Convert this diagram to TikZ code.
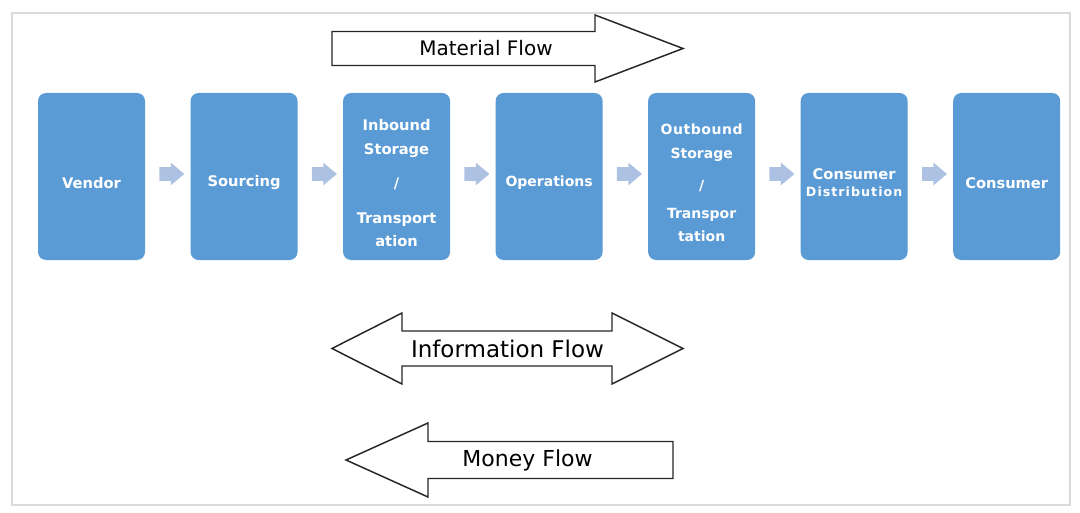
\documentclass[tikz,border=0pt]{standalone}
\usepackage{fontspec}
\setmainfont{DejaVu Sans}
\usepackage{tikz}
\usetikzlibrary{positioning,calc,shapes.arrows}

\definecolor{stageblue}{RGB}{91,155,213}
\definecolor{tipblue}{RGB}{173,194,227}
\definecolor{framegray}{RGB}{218,218,218}

% first line is set a little lower in the stages
\newcommand{\stagegap}{\rule{0pt}{17.5pt}}

\tikzset{
  stage/.style={rectangle, rounded corners=6pt, fill=stageblue, text=white,
                font=\bfseries\fontsize{11}{18}\selectfont, align=center,
                minimum width=80.25pt, minimum height=125.25pt, inner sep=1pt},
  stagetip/.style={single arrow, fill=tipblue, draw=none, inner xsep=0pt, inner ysep=4.9pt,
                   minimum height=18.75pt, single arrow head extend=3.4pt,
                   single arrow tip angle=80},
  flowline/.style={draw=black!85, line width=1.1pt, fill=white},
  flowtext/.style={font=\fontsize{15}{18}\selectfont, inner sep=0pt}
}

\begin{document}
\begin{tikzpicture}[x=0.75pt, y=-0.75pt, node distance=33.75pt]
              \useasboundingbox (0,0) rectangle (1080,513);

              % Frame
              \draw[framegray, line width=1.1pt] (12,13) rectangle (1070,505);

              % Stages
              \node[stage] (vendor) at (91.5,176.5) {\stagegap Vendor};
              \node[stage, right=of vendor] (sourcing) {\stagegap Sourcing};
              \node[stage, right=of sourcing] (inbound)
                    {\stagegap Inbound\\Storage\\[8pt]/\\[8pt]Transport\\[-1pt]ation};
              \node[stage, right=of inbound, font=\bfseries\fontsize{10.5}{18}\selectfont] (operations) {\stagegap Operations};
              \node[stage, right=of operations, font=\bfseries\fontsize{10.5}{17.5}\selectfont] (outbound)
                    {\addfontfeatures{LetterSpace=4}\stagegap Outbound\\Storage\\[7pt]/\\[3pt]Transpor\\tation};
              \node[stage, right=of outbound] (distribution)
                    {\stagegap Consumer\\[-5pt]{\fontsize{9.5}{11}\selectfont\addfontfeatures{LetterSpace=8}Distribution}};
              \node[stage, right=of distribution] (consumer) {\stagegap Consumer};

              % Arrows between stages
              \foreach \a/\b [count=\i] in {vendor/sourcing, sourcing/inbound, inbound/operations,
                                            operations/outbound, outbound/distribution, distribution/consumer}
                    \node[stagetip] (tip\i) at ($(\a.east)!0.5!(\b.west)+(0,-2.5)$) {};

              % Material flow
              \draw[flowline] (332,31.5) -- (595,31.5) -- (595,15) -- (683,48.5)
                    -- (595,82) -- (595,65.5) -- (332,65.5) -- cycle;
              \node[flowtext] (material) at (486,48.5) {Material Flow};

              % Information flow
              \draw[flowline] (332,348.5) -- (402,313) -- (402,331) -- (612,331) -- (612,313)
                    -- (683,348.5) -- (612,384) -- (612,366) -- (402,366) -- (402,384) -- cycle;
              \node[flowtext, font=\fontsize{17.25}{20}\selectfont] (information) at (507.5,349) {Information Flow};

              % Money flow
              \draw[flowline] (346,460) -- (428,423) -- (428,441.5) -- (673,441.5)
                    -- (673,478.5) -- (428,478.5) -- (428,497) -- cycle;
              \node[flowtext, font=\fontsize{16.5}{20}\selectfont] (money) at (527.5,460) {Money Flow};
\end{tikzpicture}
\end{document}
